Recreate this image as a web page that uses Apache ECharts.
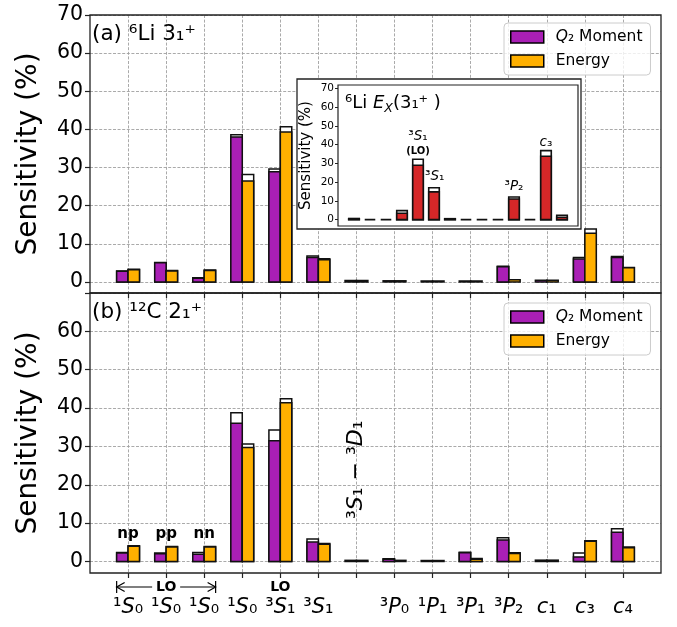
<!DOCTYPE html>
<html><head><meta charset="utf-8">
<script src="https://cdn.jsdelivr.net/npm/echarts@6/dist/echarts.min.js"></script>
<style>html,body{margin:0;padding:0;background:#fff}#c{width:677px;height:627px}</style>
</head><body><div id="c"></div>
<script>
// ---------- data ----------
const categories = ['1S0 np','1S0 pp','1S0 nn','1S0','3S1 (LO)','3S1','3S1-3D1','3P0','1P1','3P1','3P2','c1','c3','c4'];
const labelSup  = ['¹','¹','¹','¹','³','³','','³','¹','³','³','','',''];
const labelMain = ['S','S','S','S','S','S','','P','P','P','P','c','c','c'];
const labelSub  = ['₀','₀','₀','₀','₁','₁','','₀','₁','₁','₂','₁','₃','₄'];
const yTicks = [0,10,20,30,40,50,60,70];

// (a) 6Li 3+ : white (total) bar and coloured bar drawn in front of it
const liQ2Total     = [2.9, 5.1, 1.1, 38.6, 29.6, 6.8, 0.4, 0.3, 0.25, 0.25, 4.1, 0.45, 6.4, 6.7];
const liQ2Main      = [2.8, 5.0, 1.0, 38.0, 28.9, 6.4, 0.4, 0.3, 0.25, 0.25, 4.0, 0.45, 6.0, 6.4];
const liEnergyTotal = [3.3, 3.0, 3.1, 28.15, 40.7, 6.1, 0.4, 0.3, 0.25, 0.25, 0.6, 0.45, 13.9, 3.8];
const liEnergyMain  = [3.2, 2.9, 3.0, 26.5, 39.3, 5.8, 0.4, 0.3, 0.25, 0.25, 0.6, 0.45, 12.8, 3.7];

// (b) 12C 2+
const cQ2Total      = [2.35, 2.2, 2.35, 38.8, 34.3, 5.85, 0.3, 0.7, 0.25, 2.4, 6.2, 0.35, 2.2, 8.55];
const cQ2Main       = [2.2, 2.0, 1.9, 36.05, 31.5, 5.05, 0.3, 0.6, 0.25, 2.3, 5.6, 0.35, 1.2, 7.6];
const cEnergyTotal  = [4.1, 3.9, 3.9, 30.65, 42.4, 4.7, 0.3, 0.3, 0.25, 0.8, 2.25, 0.35, 5.4, 3.75];
const cEnergyMain   = [4.0, 3.8, 3.8, 29.7, 41.4, 4.5, 0.3, 0.3, 0.25, 0.6, 2.1, 0.35, 5.3, 3.6];

// inset: 6Li Ex(3+)
const insetTotal    = [0.6, 0, 0, 4.8, 32.2, 17.0, 0.5, 0, 0, 0, 12.1, 0, 36.8, 2.3];
const insetMain     = [0.3, 0, 0, 3.4, 29.0, 14.8, 0.3, 0, 0, 0, 11.0, 0, 33.8, 1.3];

// ---------- style ----------
const FONT = 'DejaVu Sans';
const PURPLE = '#a91fb5', ORANGE = '#ffb000', RED = '#d62728', EDGE = '#111';

function rows(total, main) { return categories.map((_, i) => [i, total[i], main[i]]); }

function barRenderer(offset, width, color, lw) {
  return function (params, api) {
    const x = api.value(0), total = api.value(1), main = api.value(2);
    const p0 = api.coord([x + offset, 0]);
    const pT = api.coord([x + offset, total]);
    const pM = api.coord([x + offset, main]);
    const w = api.size([width, 0])[0];
    const left = p0[0] - w / 2;
    const kids = [];
    if (total > main) kids.push({type: 'rect', shape: {x: left, y: pT[1], width: w, height: p0[1] - pT[1]},
      style: {fill: '#fff', stroke: EDGE, lineWidth: lw}});
    kids.push({type: 'rect', shape: {x: left, y: pM[1], width: w, height: p0[1] - pM[1]},
      style: {fill: color, stroke: EDGE, lineWidth: lw}});
    return {type: 'group', children: kids};
  };
}

function barSeries(name, g, total, main, offset, width, color, lw, z) {
  return {
    type: 'custom', name: name, xAxisIndex: g, yAxisIndex: g, z: z || 2,
    itemStyle: {color: color}, encode: {x: 0, y: [1, 2]},
    renderItem: barRenderer(offset, width, color, lw),
    data: rows(total, main)
  };
}

const superRich = {
  n: {fontFamily: FONT, fontSize: 21, lineHeight: 26, color: '#000'},
  i: {fontFamily: FONT, fontSize: 21, lineHeight: 26, fontStyle: 'italic', color: '#000'}
};

// annotations (positions in data units)
const bottomNotes = [
  {x: 0, y: 7.2, kind: 'txt', text: 'np'},
  {x: 1, y: 7.2, kind: 'txt', text: 'pp'},
  {x: 2, y: 7.2, kind: 'txt', text: 'nn'},
  {x: 1, y: -6.65, kind: 'arrow', text: 'LO', half: 1.3},
  {x: 4, y: -6.65, kind: 'txt', text: 'LO', size: 14},
  {x: 6, y: 23.9, kind: 'rot'}
];
const insetNotes = [
  {x: 4, y: 44.2, rich: '{n|³}{i|S}{n|₁}'},
  {x: 4, y: 36.2, rich: '{b|(LO)}'},
  {x: 5.05, y: 22.9, rich: '{n|³}{i|S}{n|₁}'},
  {x: 10, y: 17.6, rich: '{n|³}{i|P}{n|₂}'},
  {x: 12, y: 40.9, rich: '{i|c}{n|₃}'}
];

function notesRenderer(params, api) {
  const n = bottomNotes[params.dataIndex];
  const p = api.coord([api.value(0), api.value(1)]);
  if (n.kind === 'txt') {
    return {type: 'text', x: p[0], y: p[1], style: {text: n.text, fill: '#000',
      fontFamily: FONT, fontWeight: 'bold', fontSize: n.size || 15, align: 'center', verticalAlign: 'middle'}};
  }
  if (n.kind === 'arrow') {
    const l = api.coord([n.x - n.half, n.y])[0], r = api.coord([n.x + n.half, n.y])[0];
    const y = p[1], ls = {stroke: '#000', lineWidth: 1.2, fill: null};
    return {type: 'group', children: [
      {type: 'text', x: p[0], y: y, style: {text: n.text, fill: '#000', fontFamily: FONT, fontWeight: 'bold',
        fontSize: 14, align: 'center', verticalAlign: 'middle'}},
      {type: 'line', shape: {x1: l, y1: y, x2: p[0] - 14, y2: y}, style: ls},
      {type: 'line', shape: {x1: p[0] + 14, y1: y, x2: r, y2: y}, style: ls},
      {type: 'line', shape: {x1: l, y1: y - 6, x2: l, y2: y + 6}, style: ls},
      {type: 'line', shape: {x1: r, y1: y - 6, x2: r, y2: y + 6}, style: ls},
      {type: 'polyline', shape: {points: [[l + 8, y - 4.5], [l, y], [l + 8, y + 4.5]]}, style: ls},
      {type: 'polyline', shape: {points: [[r - 8, y - 4.5], [r, y], [r - 8, y + 4.5]]}, style: ls}
    ]};
  }
  return {type: 'text', x: p[0], y: p[1], rotation: Math.PI / 2, style: {
    text: '{n|³}{i|S}{n|₁ − ³}{i|D}{n|₁}', align: 'center', verticalAlign: 'middle',
    rich: {n: {fontFamily: FONT, fontSize: 22, color: '#000'}, i: {fontFamily: FONT, fontSize: 22, fontStyle: 'italic', color: '#000'}}}};
}

function insetNotesRenderer(params, api) {
  const n = insetNotes[params.dataIndex];
  const p = api.coord([api.value(0), api.value(1)]);
  return {type: 'text', x: p[0], y: p[1], z2: 10, style: {text: n.rich, align: 'center', verticalAlign: 'middle',
    rich: {n: {fontFamily: FONT, fontSize: 13.5, color: '#000'},
           i: {fontFamily: FONT, fontSize: 13.5, fontStyle: 'italic', color: '#000'},
           b: {fontFamily: FONT, fontSize: 10, fontWeight: 'bold', color: '#000'}}}};
}

const gridLine = {show: true, lineStyle: {color: '#a0a0a0', width: 0.9, type: [3, 1.6]}};
const tickStyle = {lineStyle: {color: '#222', width: 1.2}};

function mainX(g, withLabels) {
  return {
    type: 'value', gridIndex: g, min: -1, max: 14, interval: 1, position: 'bottom',
    axisLine: {show: false, onZero: false},
    axisTick: {show: true, inside: false, length: 5, customValues: categories.map((_, i) => i), ...tickStyle},
    axisLabel: withLabels ? {
      show: true, margin: 22, customValues: categories.map((_, i) => i),
      formatter: v => { const i = Math.round(v); return labelMain[i] ? (labelSup[i] ? '{n|' + labelSup[i] + '}' : '') + '{i|' + labelMain[i] + '}{n|' + labelSub[i] + '}' : ''; },
      rich: superRich
    } : {show: false},
    splitLine: gridLine
  };
}
function mainY(g, min, maxLabel) {
  return {
    type: 'value', gridIndex: g, min: min, max: 70, minInterval: 10, maxInterval: 10, position: 'left',
    axisLine: {show: false, onZero: false},
    axisTick: {show: true, length: 5, customValues: yTicks, ...tickStyle},
    axisLabel: {show: true, margin: 7, fontFamily: FONT, fontSize: 20.5, color: '#000',
      customValues: yTicks.filter(v => v <= maxLabel)},
    splitLine: gridLine,
    name: 'Sensitivity (%)', nameLocation: 'middle', nameRotate: 90, nameGap: 47,
    nameTextStyle: {fontFamily: FONT, fontSize: 28, color: '#000'}
  };
}

function legendAt(top) {
  return {
    data: ['Q2', 'Energy'], orient: 'vertical', left: 504, top: top,
    padding: [5, 8, 5, 6], itemGap: 6, itemWidth: 33, itemHeight: 12, icon: 'rect',
    backgroundColor: 'rgba(255,255,255,0.8)', borderColor: '#cccccc', borderWidth: 1, borderRadius: 4,
    itemStyle: {borderColor: '#000', borderWidth: 1.5},
    formatter: name => name === 'Q2' ? '{i|Q}{n|₂ Moment}' : '{n|Energy}',
    textStyle: {fontFamily: FONT, fontSize: 15.5, color: '#000', lineHeight: 18, padding: [0, 0, 0, 7],
      rich: {n: {fontFamily: FONT, fontSize: 15.5, color: '#000'},
             i: {fontFamily: FONT, fontSize: 15.5, fontStyle: 'italic', color: '#000'}}},
    selectedMode: false
  };
}

const chart = echarts.init(document.getElementById('c'), null, {renderer: 'canvas'});
chart.setOption({
  animation: false,
  backgroundColor: '#fff',
  textStyle: {fontFamily: FONT},
  grid: [
    {left: 90, top: 15, width: 571, height: 278, show: true, backgroundColor: 'transparent', borderColor: '#222', borderWidth: 1.3, z: 3},
    {left: 90, top: 293, width: 571, height: 280, show: true, backgroundColor: 'transparent', borderColor: '#222', borderWidth: 1.3, z: 3},
    {left: 338, top: 85, width: 240, height: 141, show: true, backgroundColor: 'transparent', borderColor: '#222', borderWidth: 1.2, z: 7}
  ],
  xAxis: [
    mainX(0, false),
    mainX(1, true),
    {type: 'value', gridIndex: 2, min: -1, max: 14, interval: 1, z: 8, position: 'bottom',
      axisLine: {show: false, onZero: false}, axisTick: {show: false}, axisLabel: {show: false}, splitLine: {show: false}}
  ],
  yAxis: [
    mainY(0, -2.9, 70),
    mainY(1, -3, 60),
    {type: 'value', gridIndex: 2, min: -3.4, max: 71.8, minInterval: 10, maxInterval: 10, z: 8, position: 'left',
      axisLine: {show: false, onZero: false},
      axisTick: {show: true, length: 3, customValues: yTicks, lineStyle: {color: '#222', width: 1}},
      axisLabel: {show: true, margin: 4, fontFamily: FONT, fontSize: 10.5, color: '#000', customValues: yTicks},
      splitLine: {show: false},
      name: 'Sensitivity (%)', nameLocation: 'middle', nameRotate: 90, nameGap: 24,
      nameTextStyle: {fontFamily: FONT, fontSize: 15, color: '#000'}}
  ],
  legend: [legendAt(23), legendAt(303)],
  graphic: [
    {type: 'rect', z: 5, shape: {x: 297, y: 79, width: 284, height: 150},
      style: {fill: '#fff', stroke: '#222', lineWidth: 1.3}},
    {type: 'text', z: 6, x: 92, y: 34, style: {text: '(a) ⁶Li 3₁⁺', fontFamily: FONT, fontSize: 21.5, fill: '#000', verticalAlign: 'middle'}},
    {type: 'text', z: 6, x: 92, y: 312, style: {text: '(b) ¹²C 2₁⁺', fontFamily: FONT, fontSize: 21.5, fill: '#000', verticalAlign: 'middle'}},
    {type: 'text', z: 9, x: 345, y: 103, style: {text: '{n|⁶Li }{i|E}{s|X}{n|(3₁⁺ )}', verticalAlign: 'middle',
      rich: {n: {fontFamily: FONT, fontSize: 18, color: '#000', lineHeight: 24},
             i: {fontFamily: FONT, fontSize: 18, fontStyle: 'italic', color: '#000', lineHeight: 24},
             s: {fontFamily: FONT, fontSize: 12.5, fontStyle: 'italic', color: '#000', lineHeight: 12, verticalAlign: 'bottom'}}}}
  ],
  series: [
    barSeries('Q2', 0, liQ2Total, liQ2Main, -0.15, 0.3, PURPLE, 1.5),
    barSeries('Energy', 0, liEnergyTotal, liEnergyMain, 0.15, 0.3, ORANGE, 1.5),
    barSeries('Q2', 1, cQ2Total, cQ2Main, -0.15, 0.3, PURPLE, 1.5),
    barSeries('Energy', 1, cEnergyTotal, cEnergyMain, 0.15, 0.3, ORANGE, 1.5),
    barSeries('inset', 2, insetTotal, insetMain, 0, 0.66, RED, 1.6, 9),
    {type: 'custom', name: 'notes', xAxisIndex: 1, yAxisIndex: 1, z: 4, clip: false,
      renderItem: notesRenderer, data: bottomNotes.map(n => [n.x, n.y])},
    {type: 'custom', name: 'insetNotes', xAxisIndex: 2, yAxisIndex: 2, z: 9, clip: false,
      renderItem: insetNotesRenderer, data: insetNotes.map(n => [n.x, n.y])}
  ]
});
</script></body></html>
